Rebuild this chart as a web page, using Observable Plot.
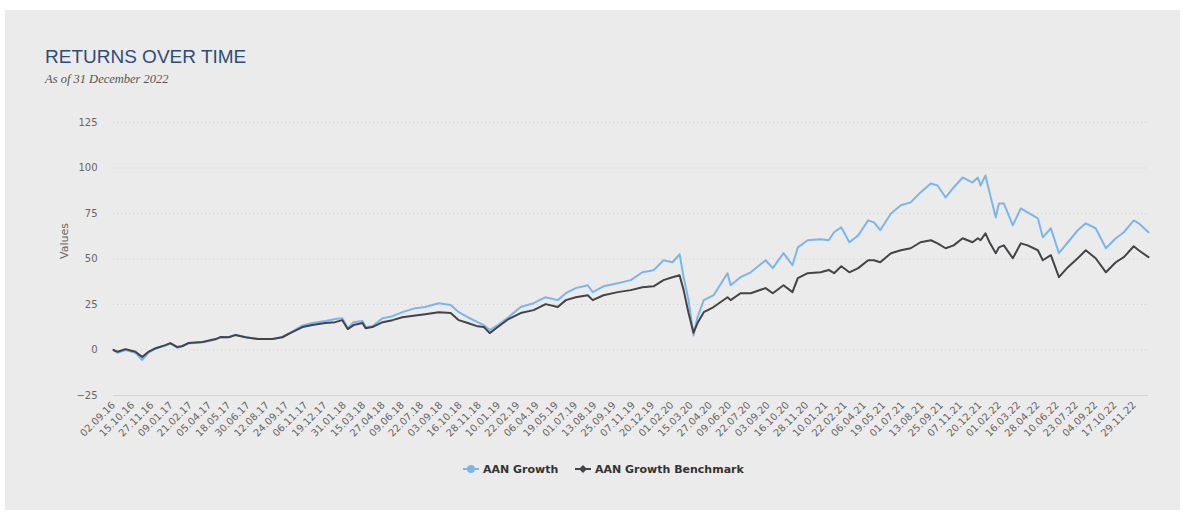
<!DOCTYPE html>
<html><head><meta charset="utf-8">
<script src="https://cdn.jsdelivr.net/npm/d3@7"></script>
<script src="https://cdn.jsdelivr.net/npm/@observablehq/plot@0.6"></script>
<style>
html,body{margin:0;padding:0;background:#fff;width:1184px;height:513px;overflow:hidden;position:relative;}
#panel{position:absolute;left:5px;top:10px;width:1175px;height:500px;background:#ebebeb;}
#title{position:absolute;left:45px;top:47px;font:19px "Liberation Sans",Arial,sans-serif;line-height:1;color:#2f4b7c;white-space:nowrap;}
#subtitle{position:absolute;left:45px;top:73px;font:italic 12.5px "Liberation Serif",serif;line-height:1;color:#555;white-space:nowrap;}
#chart{position:absolute;left:0;top:100px;}
.leg{position:absolute;top:461px;height:16px;display:flex;align-items:center;font:bold 11px "DejaVu Sans",sans-serif;color:#333;white-space:nowrap;}
.leg svg{margin-right:4px;}
</style></head>
<body>
<div id="panel"></div>
<div id="title">RETURNS OVER TIME</div>
<div id="subtitle">As of 31 December 2022</div>
<div id="chart"></div>
<div class="leg" style="left:463px"><svg width="16" height="16"><line x1="0" y1="8" x2="16" y2="8" stroke="#7cb5ec" stroke-width="2"/><circle cx="8" cy="8" r="4" fill="#7cb5ec"/></svg>AAN Growth</div>
<div class="leg" style="left:575px"><svg width="16" height="16"><line x1="0" y1="8" x2="16" y2="8" stroke="#434348" stroke-width="2"/><path d="M8 4 L12 8 L8 12 L4 8 Z" fill="#434348"/></svg>AAN Growth Benchmark</div>
<script>
const tickLabels = ["02.09.16","15.10.16","27.11.16","09.01.17","21.02.17","05.04.17","18.05.17","30.06.17","12.08.17","24.09.17","06.11.17","19.12.17","31.01.18","15.03.18","27.04.18","09.06.18","22.07.18","03.09.18","16.10.18","28.11.18","10.01.19","22.02.19","06.04.19","19.05.19","01.07.19","13.08.19","25.09.19","07.11.19","20.12.19","01.02.20","15.03.20","27.04.20","09.06.20","22.07.20","03.09.20","16.10.20","28.11.20","10.01.21","22.02.21","06.04.21","19.05.21","01.07.21","13.08.21","25.09.21","07.11.21","20.12.21","01.02.22","16.03.22","28.04.22","10.06.22","23.07.22","04.09.22","17.10.22","29.11.22"];
const yTicks = [-25, 0, 25, 50, 75, 100, 125];
const yTitle = "Values";

const dates = ["2016-09-02","2016-09-11","2016-09-29","2016-10-21","2016-11-05","2016-11-19","2016-12-05","2016-12-27","2017-01-07","2017-01-23","2017-02-03","2017-02-16","2017-03-20","2017-04-18","2017-04-29","2017-05-17","2017-06-01","2017-06-24","2017-07-23","2017-08-23","2017-09-14","2017-10-07","2017-10-29","2017-11-20","2017-12-19","2018-01-10","2018-01-26","2018-02-07","2018-02-20","2018-03-12","2018-03-19","2018-04-03","2018-04-26","2018-05-18","2018-06-09","2018-07-08","2018-07-30","2018-08-29","2018-09-25","2018-10-13","2018-11-02","2018-11-24","2018-12-08","2018-12-21","2019-01-08","2019-02-01","2019-02-28","2019-03-29","2019-04-25","2019-05-22","2019-06-09","2019-07-01","2019-07-28","2019-08-08","2019-09-01","2019-10-03","2019-11-01","2019-11-27","2019-12-22","2020-01-13","2020-02-02","2020-02-18","2020-02-27","2020-03-09","2020-03-20","2020-03-29","2020-04-12","2020-05-04","2020-06-04","2020-06-11","2020-07-03","2020-07-26","2020-08-28","2020-09-13","2020-10-07","2020-10-27","2020-11-08","2020-11-30","2020-12-29","2021-01-16","2021-01-28","2021-02-13","2021-03-03","2021-03-23","2021-04-14","2021-04-27","2021-05-11","2021-06-04","2021-06-26","2021-07-18","2021-08-09","2021-09-01","2021-09-16","2021-10-04","2021-10-22","2021-11-11","2021-12-03","2021-12-15","2021-12-21","2022-01-01","2022-01-10","2022-01-24","2022-01-31","2022-02-11","2022-03-03","2022-03-21","2022-04-05","2022-04-28","2022-05-09","2022-05-27","2022-06-14","2022-07-04","2022-07-26","2022-08-13","2022-09-04","2022-09-27","2022-10-19","2022-11-06","2022-11-28","2022-12-09","2022-12-31"];

const growth = [0,-1.5,0,-1.5,-5.5,-1.5,0.8,2.5,3.5,1.2,2,3.6,4.2,5.8,7,7,8.4,7,6,6,7.2,10.2,13.5,14.8,15.9,17,17.5,12,15.3,16,12.6,13,17.5,18.6,20.8,23,23.6,25.7,24.7,20.8,18,15.3,13.7,11,13.7,18,23.6,25.7,29,27.4,31.2,34,35.6,31.8,35,36.7,38.4,42.7,43.8,49.3,48.2,52.6,40,27.4,8,18,27.4,30.1,42.2,35.6,40,42.7,49.3,45,53.2,46.6,56.4,60.3,60.8,60.3,64.7,67.4,59.2,63,71.2,70.1,65.8,75,79.5,81.1,86.6,91.5,90.4,83.8,89.3,94.8,92,94.8,90.4,95.9,86.6,72.9,80.5,80.5,68.5,77.8,75.6,72.3,61.9,66.9,53.2,59.2,65.8,69.6,66.9,55.9,61.4,64.7,71.2,69.6,64.7];

const benchmark = [0,-1,0.5,-1,-3.8,-1,1,2.7,3.8,1.6,2.2,3.8,4.4,6,7.1,7,8.2,7,6,6,7,9.9,12.6,13.7,14.8,15.3,16.4,11.5,13.7,14.8,12,12.6,15.3,16.4,18,19,19.7,20.8,20.3,16.4,14.8,13,12.6,9.3,12.6,17,20.3,21.9,25.2,23.6,27.4,29,30.1,27.4,30.1,31.8,32.9,34.5,35,38.4,40,41.1,32.9,20.3,9.5,14.8,20.8,23.6,29,27.4,31.2,31.2,34,31.2,35.6,31.8,39.5,42.2,42.7,44,42.2,46,42.7,45,49.3,49.3,48.2,53.2,54.8,55.9,59.2,60.3,58.6,55.9,57.5,61.4,59.2,61.4,60.3,64.1,59.2,53.2,56.4,57.5,50.4,58.6,57.5,54.8,49.3,52.1,40,45.5,50.4,54.8,50.4,42.7,48.2,51,57,54.8,51];

const parseTick = d3.utcParse("%d.%m.%y");
const tickDates = tickLabels.map(parseTick);
const rows = dates.map((d, i) => ({date: new Date(d + "T00:00:00Z"), growth: growth[i], benchmark: benchmark[i]}));

const chart = Plot.plot({
  width: 1184, height: 350,
  marginLeft: 113, marginRight: 36, marginTop: 22, marginBottom: 55,
  style: {background: "transparent", fontFamily: "'DejaVu Sans', sans-serif", fontSize: "10px", color: "#666"},
  x: {type: "utc", domain: [new Date("2016-09-02T00:00:00Z"), new Date("2022-12-31T00:00:00Z")]},
  y: {domain: [-25, 125]},
  marks: [
    Plot.gridY(yTicks.filter(d => d > -25), {stroke: "#cfcfcf", strokeOpacity: 1, strokeDasharray: "1,3"}),
    Plot.ruleY([-25], {stroke: "#ccd6eb"}),
    Plot.axisY(yTicks, {tickSize: 0, tickPadding: 16, tickFormat: d => String(d).replace("-", "−"), label: null}),
    Plot.text([yTitle], {frameAnchor: "left", dx: -49, rotate: -90, fontSize: 11, fill: "#666"}),
    Plot.axisX(tickDates, {tickSize: 0, tickRotate: -45, tickPadding: 8, tickFormat: d3.utcFormat("%d.%m.%y"), label: null}),
    Plot.lineY(rows, {x: "date", y: "growth", stroke: "#7cb5ec", strokeWidth: 2}),
    Plot.lineY(rows, {x: "date", y: "benchmark", stroke: "#434348", strokeWidth: 2})
  ]
});
document.getElementById("chart").appendChild(chart);
</script>
</body></html>
